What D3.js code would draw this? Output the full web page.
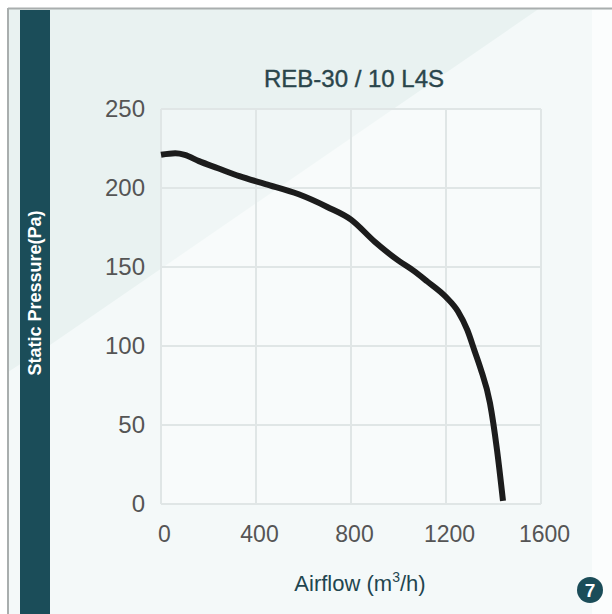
<!DOCTYPE html>
<html>
<head>
<meta charset="utf-8">
<script src="https://cdn.jsdelivr.net/npm/d3@7"></script>
<style>
  html, body { margin: 0; padding: 0; background: #ffffff; }
  svg { display: block; }
  text { font-family: "Liberation Sans", Arial, sans-serif; }
</style>
</head>
<body>
<svg id="chart" width="612" height="614"></svg>
<script>
// ---- data ----
const chartTitle = "REB-30 / 10 L4S";
const xTicks = [0, 400, 800, 1200, 1600];
const yTicks = [0, 50, 100, 150, 200, 250];
const airflow  = [0, 60, 100, 160, 240, 330, 440, 580, 700, 800, 900, 1000, 1060, 1120, 1200, 1250, 1290, 1320, 1345, 1385, 1415, 1440];
const pressure = [221, 222, 221, 217, 212.5, 207.5, 202.5, 196, 188, 180, 166, 154, 148, 141, 131, 122, 110, 97, 86, 64, 34, 2];
const badgeLabel = "7";

// ---- layout ----
const svg = d3.select("#chart");
const W = 612, H = 614;
const plot = { left: 161, right: 541, top: 109, bottom: 504 };

// background
svg.append("rect").attr("x", 0).attr("y", 0).attr("width", W).attr("height", H).attr("fill", "#ffffff");
svg.append("rect").attr("x", 8).attr("y", 8).attr("width", W - 8).attr("height", H - 8).attr("fill", "#f4f9f9");
svg.append("polygon")
  .attr("points", "8,8 540,8 50,345 8,372")
  .attr("fill", "#e9f2f1");
svg.append("rect").attr("x", 592).attr("y", 10).attr("width", 20).attr("height", H - 10).attr("fill", "#fbfdfd");

// frame border
svg.append("line").attr("x1", 8).attr("x2", W).attr("y1", 8.5).attr("y2", 8.5).attr("stroke", "#a9aeae").attr("stroke-width", 2);
svg.append("line").attr("x1", 8).attr("x2", 8).attr("y1", 8).attr("y2", H).attr("stroke", "#a9aeae").attr("stroke-width", 2);

// dark side bar
svg.append("rect").attr("x", 20).attr("y", 10).attr("width", 30).attr("height", H - 10).attr("fill", "#1b4d59");

// scales
const x = d3.scaleLinear().domain([0, 1600]).range([plot.left, plot.right]);
const y = d3.scaleLinear().domain([0, 250]).range([plot.bottom, plot.top]);

// plot background
svg.append("rect")
  .attr("x", plot.left).attr("y", plot.top)
  .attr("width", plot.right - plot.left).attr("height", plot.bottom - plot.top)
  .attr("fill", "#ffffff").attr("fill-opacity", 0.35);

// grid
const grid = svg.append("g").attr("stroke", "#e0e6e6").attr("stroke-width", 2);
grid.selectAll("line.v").data(xTicks).join("line")
  .attr("x1", d => x(d)).attr("x2", d => x(d))
  .attr("y1", plot.top).attr("y2", plot.bottom);
grid.selectAll("line.h").data(yTicks).join("line")
  .attr("x1", plot.left).attr("x2", plot.right)
  .attr("y1", d => y(d)).attr("y2", d => y(d));

// axes (labels via d3 axes, domain/ticks hidden)
const xAxis = svg.append("g")
  .attr("transform", `translate(0,${plot.bottom})`)
  .call(d3.axisBottom(x).tickValues(xTicks).tickFormat(d3.format("d")).tickSize(0).tickPadding(22));
xAxis.select(".domain").remove();
xAxis.selectAll("text")
  .attr("dx", 3)
  .attr("font-size", 23).attr("fill", "#555555")
  .attr("font-family", "'Liberation Sans', Arial, sans-serif");

const yAxis = svg.append("g")
  .attr("transform", `translate(${plot.left},0)`)
  .call(d3.axisLeft(y).tickValues(yTicks).tickFormat(d3.format("d")).tickSize(0).tickPadding(16));
yAxis.select(".domain").remove();
yAxis.selectAll("text")
  .attr("font-size", 24).attr("fill", "#555555")
  .attr("font-family", "'Liberation Sans', Arial, sans-serif");

// curve
const pts = airflow.map((a, i) => [a, pressure[i]]);
svg.append("path")
  .datum(pts)
  .attr("fill", "none")
  .attr("stroke", "#1c1c1c")
  .attr("stroke-width", 6)
  .attr("stroke-linejoin", "round")
  .attr("d", d3.line().x(d => x(d[0])).y(d => y(d[1])).curve(d3.curveMonotoneX));

// title
svg.append("text")
  .attr("x", 354).attr("y", 87)
  .attr("text-anchor", "middle")
  .attr("font-size", 24)
  .attr("fill", "#2a454b")
  .attr("stroke", "#2a454b").attr("stroke-width", 0.4)
  .text(chartTitle);

// x axis title
const xt = svg.append("text")
  .attr("x", 360).attr("y", 591)
  .attr("text-anchor", "middle")
  .attr("font-size", 22)
  .attr("fill", "#1f4650");
xt.append("tspan").text("Airflow (m");
xt.append("tspan").attr("dy", -9).attr("font-size", 14).text("3");
xt.append("tspan").attr("dy", 9).text("/h)");

// y axis title (on dark bar)
svg.append("text")
  .attr("transform", "translate(41,293) rotate(-90)")
  .attr("text-anchor", "middle")
  .attr("font-size", 18)
  .attr("font-weight", "bold")
  .attr("fill", "#ffffff")
  .text("Static Pressure(Pa)");

// badge
svg.append("circle").attr("cx", 590).attr("cy", 590).attr("r", 13).attr("fill", "#1b4d59");
svg.append("text")
  .attr("x", 590).attr("y", 597)
  .attr("text-anchor", "middle")
  .attr("font-size", 19)
  .attr("font-weight", "bold")
  .attr("fill", "#ffffff")
  .text(badgeLabel);
</script>
</body>
</html>
